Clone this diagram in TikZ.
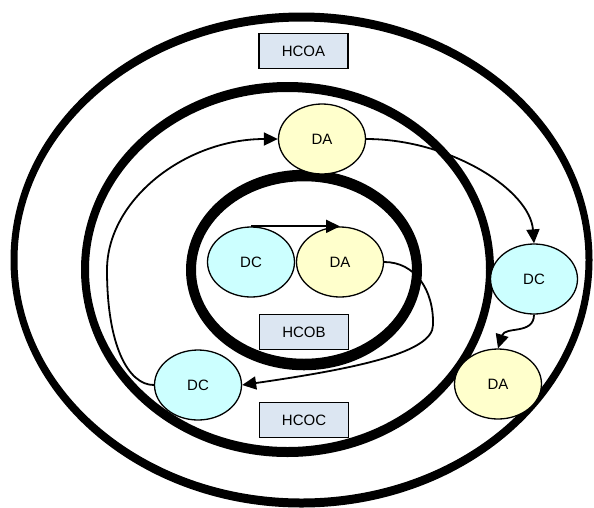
\documentclass[tikz,border=0pt]{standalone}
\usepackage{fontspec}
\setmainfont{Liberation Sans}
\usetikzlibrary{shapes.geometric,arrows.meta}
\definecolor{dcfill}{HTML}{CCFFFF}
\definecolor{dafill}{HTML}{FFFFCC}
\definecolor{boxfill}{HTML}{DCE6F2}
% ring centred at #1 with mid-line radii #2,#3 and stroke widths #4 (sides), #5 (top/bottom)
\newcommand\domainring[5]{%
  \fill[black, even odd rule]
    #1 ellipse [x radius={#2+#4/2}, y radius={#3+#5/2}]
    #1 ellipse [x radius={#2-#4/2}, y radius={#3-#5/2}];}
\begin{document}
\begin{tikzpicture}[x=1pt,y=-1pt,
  lbl/.style={font=\fontsize{15}{18}\selectfont},
  blob/.style={ellipse, draw=black, line width=1.3pt, minimum width=87pt,
    minimum height=70pt, inner sep=0pt, lbl},
  dcnode/.style={blob, fill=dcfill},
  danode/.style={blob, fill=dafill},
  hcobox/.style={rectangle, draw=black, line width=1.3pt, fill=boxfill,
    minimum width=89pt, minimum height=35pt, inner sep=0pt, lbl},
  flow/.style={line width=1.8pt, -{Triangle[length=14pt,width=13pt]}}
]
\useasboundingbox (0,0) rectangle (594,507);

% nested domains
\domainring{(301.5,260)}{287.5}{243}{7}{9}
\domainring{(287.5,269.5)}{202.5}{182.5}{8}{10}
\domainring{(304,270)}{113}{94.5}{10}{11.5}

% domain labels
\node[hcobox] (hcoa) at (303.5,51) {HCOA\hspace{11pt}};
\node[hcobox] (hcob) at (304,332) {HCOB\hspace{11pt}};
\node[hcobox] (hcoc) at (304,420) {HCOC\hspace{11pt}};

% agents
\node[dcnode] (dcin)  at (251,262) {DC};
\node[danode] (dain)  at (340,262) {DA};
\node[danode] (datop) at (322,139) {DA};
\node[dcnode] (dcleft) at (198,385) {DC};
\node[dcnode] (dcright) at (534,279) {DC};
\node[danode] (dabot) at (498,384) {DA};

% flows
\draw[flow] (dcin.north) -- (dain.north);
\draw[flow] (dain.east) .. controls (415,262) and (434,290) .. (433,325)
  .. controls (433,352) and (360,368) .. (dcleft.east);
\draw[flow] (dcleft.west) .. controls (128,385) and (107,345) .. (107,270)
  .. controls (107,200) and (185,139) .. (datop.west);
\draw[flow] (datop.east) .. controls (450,139) and (530,190) .. (dcright.north);
\draw[flow] (dcright.south) .. controls (534,335) and (505,326) .. (dabot.north);
\end{tikzpicture}
\end{document}
